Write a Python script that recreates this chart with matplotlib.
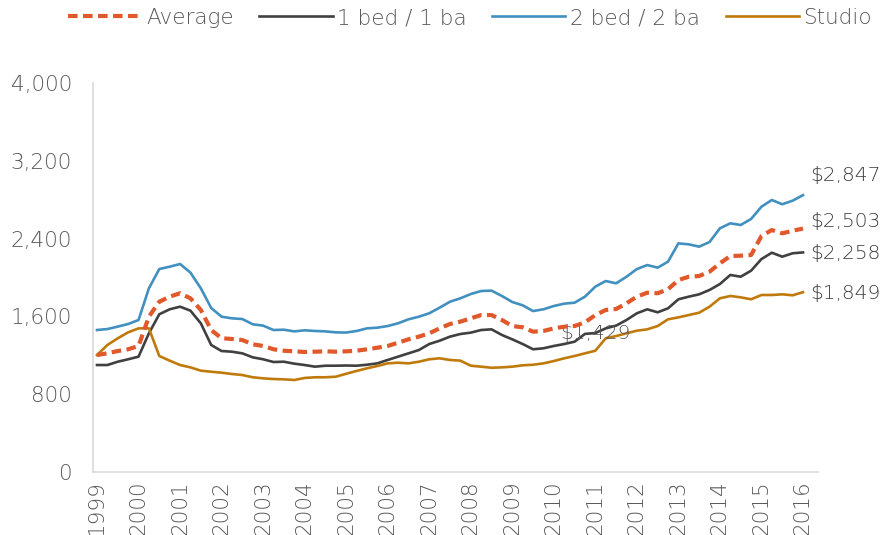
import matplotlib
matplotlib.use("Agg")
import matplotlib.pyplot as plt

years = [str(y) for y in range(1999, 2017)]

average = [1203, 1220, 1244, 1262, 1296, 1597, 1751, 1803, 1838, 1786, 1666, 1460, 1375, 1368,
           1357, 1313, 1296, 1262, 1247, 1241, 1234, 1237, 1241, 1237, 1241, 1247, 1262, 1278,
           1296, 1330, 1364, 1392, 1426, 1477, 1522, 1546, 1580, 1614, 1614, 1563, 1501, 1488,
           1443, 1450, 1477, 1494, 1501, 1539, 1614, 1666, 1676, 1735, 1803, 1844, 1838, 1879,
           1974, 2008, 2015, 2060, 2146, 2221, 2224, 2231, 2427, 2488, 2454, 2481, 2503]
one_bed = [1100, 1100, 1134, 1159, 1186, 1426, 1622, 1673, 1700, 1659, 1529, 1306, 1244, 1237,
           1220, 1179, 1159, 1131, 1134, 1114, 1100, 1083, 1093, 1093, 1095, 1093, 1103, 1117,
           1152, 1186, 1220, 1254, 1316, 1350, 1392, 1419, 1433, 1460, 1467, 1409, 1364, 1316,
           1262, 1272, 1296, 1316, 1340, 1420, 1429, 1477, 1505, 1563, 1632, 1673, 1642, 1683,
           1776, 1803, 1827, 1872, 1933, 2026, 2008, 2070, 2190, 2255, 2214, 2249, 2258]
two_bed = [1460, 1470, 1495, 1522, 1563, 1889, 2087, 2111, 2139, 2050, 1889, 1686, 1597, 1580,
           1573, 1519, 1505, 1460, 1463, 1446, 1457, 1450, 1446, 1436, 1434, 1450, 1477, 1484,
           1501, 1529, 1570, 1597, 1632, 1690, 1751, 1786, 1830, 1861, 1865, 1810, 1748, 1714,
           1655, 1673, 1707, 1731, 1741, 1803, 1906, 1964, 1940, 2008, 2087, 2128, 2101, 2163,
           2351, 2341, 2317, 2365, 2506, 2557, 2540, 2602, 2728, 2797, 2753, 2790, 2847]
studio = [1203, 1306, 1375, 1436, 1477, 1477, 1193, 1145, 1100, 1076, 1042, 1031, 1021, 1008,
          997, 974, 963, 956, 953, 946, 967, 974, 974, 980, 1010, 1039, 1066, 1090,
          1117, 1124, 1117, 1134, 1159, 1169, 1152, 1145, 1093, 1083, 1072, 1076, 1083, 1097,
          1103, 1117, 1141, 1169, 1193, 1220, 1247, 1375, 1398, 1426, 1453, 1467, 1501, 1570,
          1590, 1614, 1638, 1700, 1786, 1810, 1796, 1776, 1820, 1820, 1827, 1817, 1849]

end_labels = ["$2,847", "$2,503", "$2,258", "$1,849"]
mid_label = "$1,429"

c_avg = "#E1582B"
c_one = "#404040"
c_two = "#4190C0"
c_studio = "#C07A0C"
txt = "#595959"

plt.rcParams['font.family'] = ['DejaVu Sans']
plt.rcParams['font.weight'] = 'light'

fig = plt.figure(figsize=(8.86, 5.35), dpi=100)
ax = fig.add_axes([93/886, 1-472/535, (818-93)/886, (472-83)/535])

x = list(range(len(average)))
ax.plot(x, average, color=c_avg, lw=3.0, linestyle=(0, (2.3, 1.3)), label="Average", zorder=4)
ax.plot(x, one_bed, color=c_one, lw=1.9, label="1 bed / 1 ba", zorder=3)
ax.plot(x, two_bed, color=c_two, lw=1.9, label="2 bed / 2 ba", zorder=3)
ax.plot(x, studio, color=c_studio, lw=1.9, label="Studio", zorder=3)

ax.set_xlim(-0.385, len(average) - 1 + 15/10.382)
ax.set_ylim(0, 4000)
ax.set_yticks([0, 800, 1600, 2400, 3200, 4000])
ax.set_yticklabels(["0", "800", "1,600", "2,400", "3,200", "4,000"])
ax.set_xticks(list(range(0, len(average), 4)))
ax.set_xticklabels(years, rotation=90)
ax.tick_params(axis='both', length=0, labelsize=15.5, colors=txt)
ax.tick_params(axis='y', pad=15)
ax.tick_params(axis='x', pad=6)

for s in ["top", "right"]:
    ax.spines[s].set_visible(False)
for s in ["left", "bottom"]:
    ax.spines[s].set_color("#D9D9D9")
    ax.spines[s].set_linewidth(1.2)

last = len(average) - 1
offsets = [(two_bed[last], 14), (average[last], 5), (one_bed[last], -1), (studio[last], -1)]
for lab, (val, dy) in zip(end_labels, offsets):
    ax.annotate(lab, xy=(last, val), xytext=(5, dy), textcoords='offset points',
                ha='left', va='center', fontsize=14.5, color="#404040",
                annotation_clip=False)

ax.annotate(mid_label, xy=(48, one_bed[48]), xytext=(0, 0), textcoords='offset points',
            ha='center', va='center', fontsize=14.5, color="#595959")

leg = fig.legend(loc='center', bbox_to_anchor=(470/886, 1-18/535), ncol=4, frameon=False,
                 fontsize=15.5, handlelength=3.4, handletextpad=0.2, columnspacing=1.2,
                 labelcolor=txt)

fig.savefig("out.png", dpi=100)
